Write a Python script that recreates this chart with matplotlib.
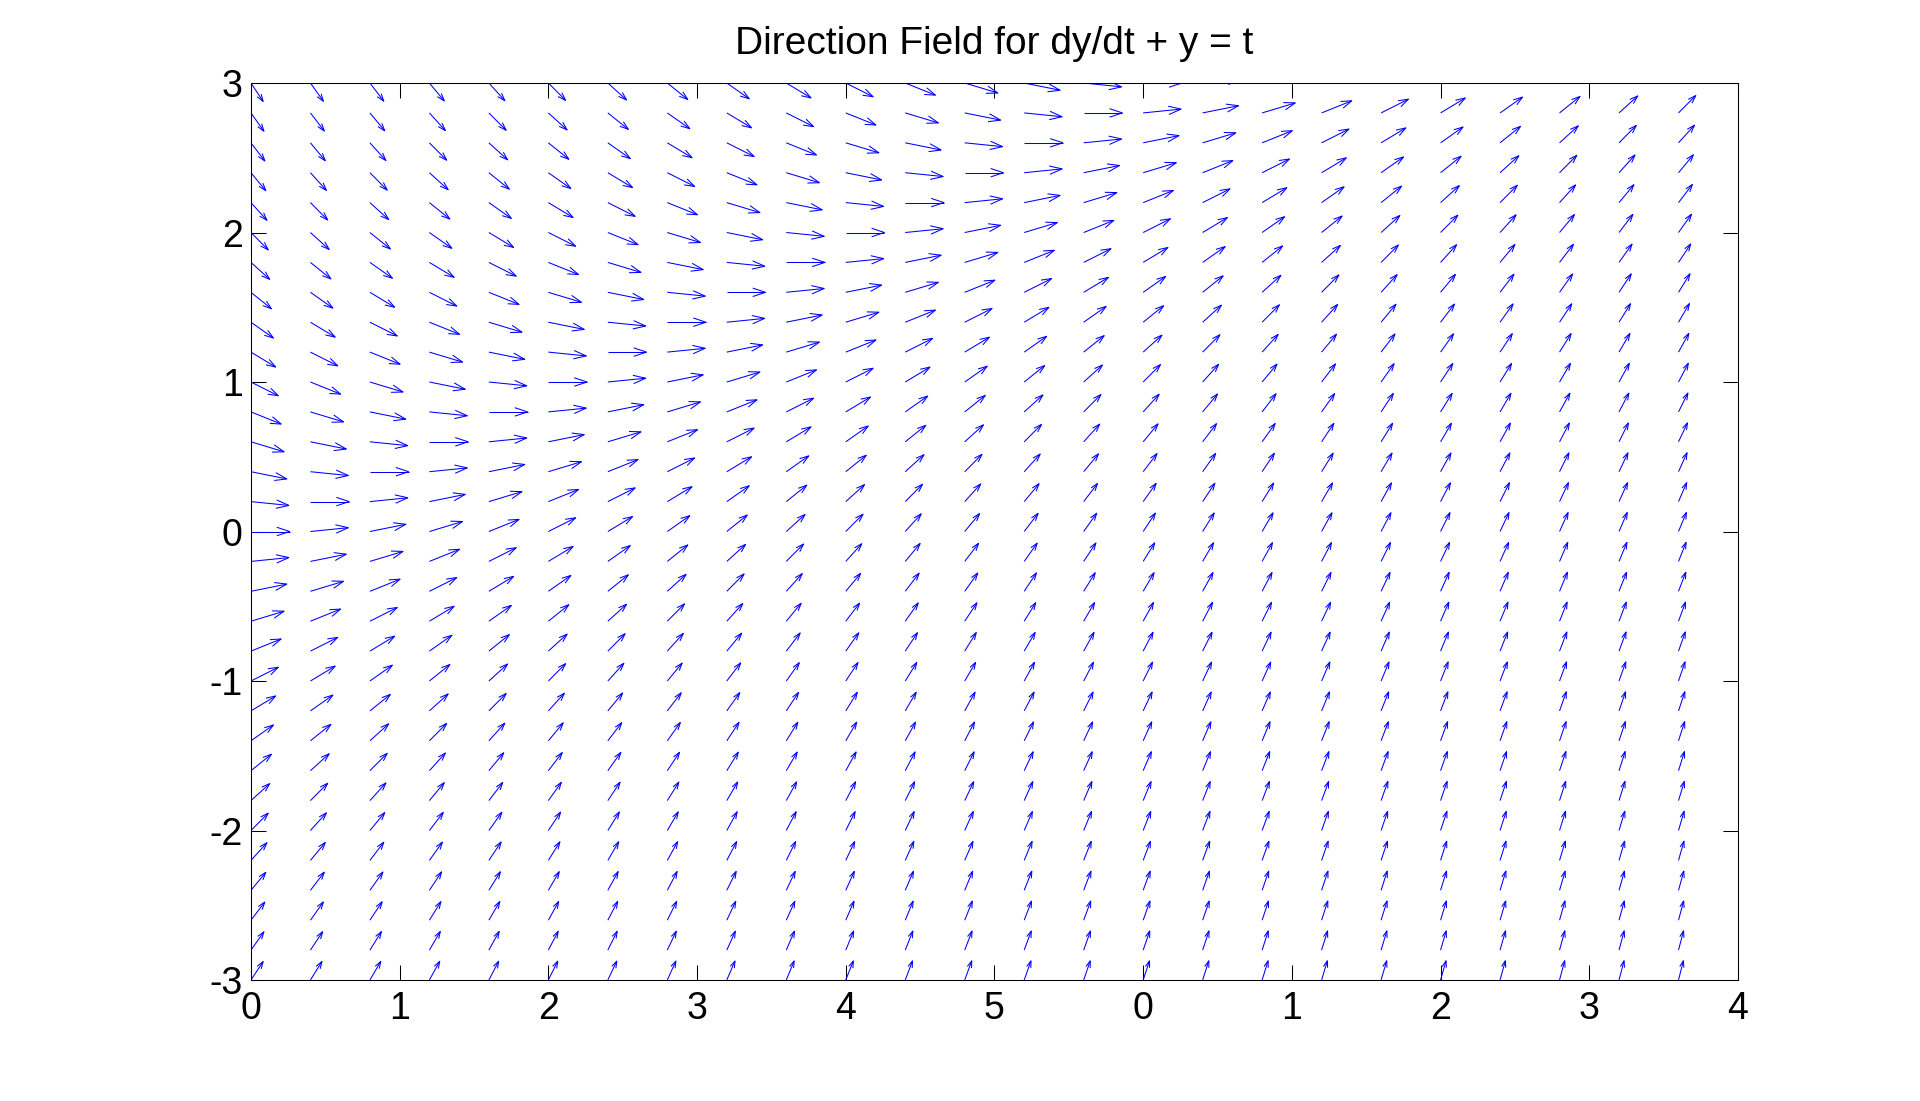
import matplotlib

matplotlib.use("Agg")
import matplotlib.pyplot as plt
import numpy as np
from matplotlib.collections import LineCollection

plt.rcParams["font.family"] = ["Liberation Sans", "DejaVu Sans"]
plt.rcParams["axes.unicode_minus"] = False

# grid of the direction field (t step 0.2, y step 0.2)
t_vals = [0.0, 0.2, 0.4, 0.6, 0.8, 1.0, 1.2, 1.4, 1.6, 1.8, 2.0, 2.2, 2.4,
          2.6, 2.8, 3.0, 3.2, 3.4, 3.6, 3.8, 4.0, 4.2, 4.4, 4.6, 4.8]
y_vals = [-3.0, -2.8, -2.6, -2.4, -2.2, -2.0, -1.8, -1.6, -1.4, -1.2, -1.0,
          -0.8, -0.6, -0.4, -0.2, 0.0, 0.2, 0.4, 0.6, 0.8, 1.0, 1.2, 1.4,
          1.6, 1.8, 2.0, 2.2, 2.4, 2.6, 2.8, 3.0]

x_ticks = [0, 1, 2, 3, 4, 5, 6, 7, 8, 9, 10]
x_ticklabels = ["0", "1", "2", "3", "4", "5", "0", "1", "2", "3", "4"]
y_ticks = [-3, -2, -1, 0, 1, 2, 3]

X_STRETCH = 2.0   # t is drawn at twice its value on the x axis
ARROW = 0.13      # arrow length (data units) for unit direction

T, Y = np.meshgrid(np.array(t_vals), np.array(y_vals))
S = T - Y  # dy/dt = t - y
L = np.sqrt(1 + S ** 2)
x0 = T * X_STRETCH
y0 = Y
u = X_STRETCH * ARROW / L
v = ARROW * S / L

# matlab-style arrow heads
alpha, beta = 0.33, 0.33
x1, y1 = x0 + u, y0 + v
segs = []
for a, b, c, d, du, dv in zip(x0.ravel(), y0.ravel(), x1.ravel(), y1.ravel(),
                              u.ravel(), v.ravel()):
    segs.append([(a, b), (c, d)])
    segs.append([(c - alpha * (du + beta * dv), d - alpha * (dv - beta * du)),
                 (c, d),
                 (c - alpha * (du - beta * dv), d - alpha * (dv + beta * du))])

fig = plt.figure(figsize=(19.2, 11.01), dpi=100)
ax = fig.add_axes([0.1307, 0.1099, 0.7745, 0.8147])
lc = LineCollection(segs, colors=(0, 0, 1), linewidths=0.75, antialiased=True)
ax.add_collection(lc)

ax.set_xlim(0, 10)
ax.set_ylim(-3, 3)
ax.set_xticks(x_ticks)
ax.set_xticklabels(x_ticklabels)
ax.set_yticks(y_ticks)
ax.tick_params(direction="in", length=10.7, width=0.75, labelsize=27,
               top=True, right=True, colors="black")
ax.tick_params(axis="x", pad=8)
ax.tick_params(axis="y", pad=6)
for sp in ax.spines.values():
    sp.set_linewidth(0.75)

ax.set_title("Direction Field for dy/dt + y = t", fontsize=28, pad=21)

fig.savefig("out.png", dpi=100)
plt.close(fig)
